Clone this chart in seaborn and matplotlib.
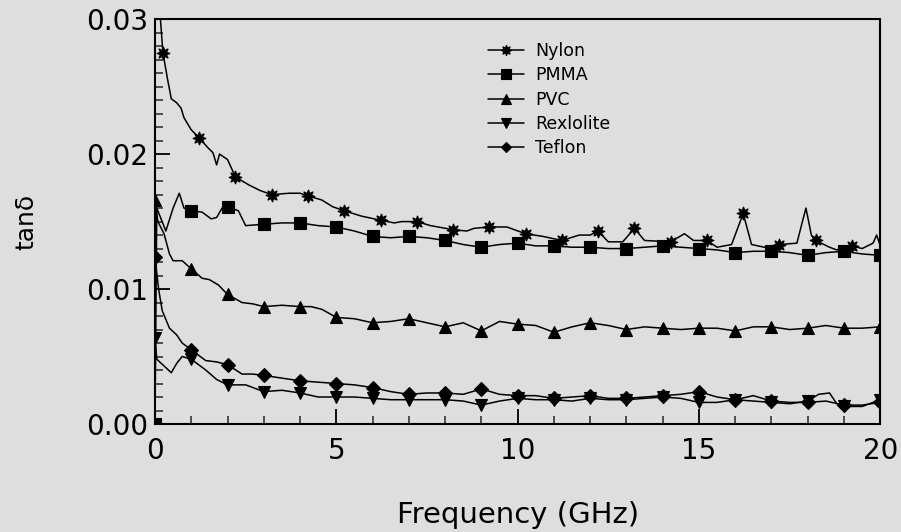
import numpy as np
import matplotlib
matplotlib.use("Agg")
import matplotlib.pyplot as plt
import seaborn as sns

# tan delta vs frequency
nylon_f = [0.15, 0.22, 0.35, 0.45, 0.6, 0.72, 0.8, 1.0, 1.22, 1.45, 1.6, 1.7, 1.78, 2.0,
           2.22, 2.6, 2.9, 3.22, 3.7, 4.0, 4.22, 4.6, 4.9, 5.22, 5.7, 6.22, 6.6, 6.8,
           7.22, 7.6, 8.22, 8.6, 8.8, 9.22, 9.7, 10.22, 10.7, 11.22, 11.7, 12.0, 12.22,
           12.5, 12.9, 13.22, 13.5, 14.22, 14.6, 14.85, 15.22, 15.5, 15.9, 16.22, 16.45,
           16.8, 17.22, 17.7, 17.95, 18.1, 18.22, 18.6, 18.8, 19.22, 19.5, 19.8, 19.9, 20.0]
nylon_v = [0.0300, 0.0275, 0.0255, 0.0241, 0.0238, 0.0234, 0.0227, 0.0218, 0.0212, 0.0205,
           0.0201, 0.0192, 0.0200, 0.0196, 0.0183, 0.0177, 0.0173, 0.0170, 0.0171, 0.0171,
           0.0169, 0.0166, 0.0161, 0.0158, 0.0154, 0.0151, 0.0149, 0.0150, 0.0150, 0.0147,
           0.0144, 0.0143, 0.0145, 0.0146, 0.0146, 0.0141, 0.0139, 0.0136, 0.0140, 0.0140,
           0.0143, 0.0135, 0.0135, 0.0145, 0.0136, 0.0135, 0.0141, 0.0136, 0.0136, 0.0131,
           0.0133, 0.0156, 0.0133, 0.0131, 0.0133, 0.0134, 0.0160, 0.0140, 0.0136, 0.0131,
           0.0129, 0.0132, 0.0130, 0.0134, 0.0140, 0.0132]

pmma_f = [0.0, 0.05, 0.3, 0.5, 0.67, 0.8, 1.0, 1.3, 1.55, 1.7, 1.85, 2.0, 2.3, 2.5, 3.0,
          3.5, 4.0, 4.5, 5.0, 5.5, 6.0, 6.5, 7.0, 7.5, 8.0, 8.5, 9.0, 9.5, 10.0, 10.5,
          11.0, 11.5, 12.0, 12.5, 13.0, 13.5, 14.0, 14.5, 15.0, 15.5, 16.0, 16.5, 17.0,
          17.5, 18.0, 18.5, 19.0, 19.5, 20.0]
pmma_v = [0.0000, 0.0160, 0.0143, 0.0160, 0.0171, 0.0160, 0.0158, 0.0157, 0.0152, 0.0153,
          0.0160, 0.0161, 0.0158, 0.0147, 0.0148, 0.0149, 0.0149, 0.0147, 0.0146, 0.0143,
          0.0139, 0.0138, 0.0139, 0.0138, 0.0136, 0.0133, 0.0131, 0.0133, 0.0134, 0.0132,
          0.0132, 0.0131, 0.0131, 0.0130, 0.0130, 0.0131, 0.0132, 0.0131, 0.0130, 0.0129,
          0.0127, 0.0128, 0.0128, 0.0127, 0.0125, 0.0127, 0.0128, 0.0126, 0.0125]

pvc_f = [0.0, 0.08, 0.25, 0.4, 0.5, 0.75, 1.0, 1.3, 1.5, 1.75, 2.0, 2.4, 2.7, 3.0, 3.5,
         4.0, 4.3, 4.6, 5.0, 5.5, 6.0, 6.5, 7.0, 7.5, 8.0, 8.5, 9.0, 9.5, 10.0, 10.5,
         11.0, 11.5, 12.0, 12.5, 13.0, 13.5, 14.0, 14.5, 15.0, 15.5, 16.0, 16.5, 17.0,
         17.5, 18.0, 18.5, 19.0, 19.5, 20.0]
pvc_v = [0.0166, 0.0150, 0.0141, 0.0126, 0.0121, 0.0121, 0.0115, 0.0108, 0.0107, 0.0103,
         0.0096, 0.0090, 0.0089, 0.0087, 0.0088, 0.0087, 0.0087, 0.0085, 0.0079, 0.0078,
         0.0075, 0.0076, 0.0078, 0.0075, 0.0072, 0.0075, 0.0069, 0.0076, 0.0074, 0.0073,
         0.0068, 0.0072, 0.0075, 0.0073, 0.0070, 0.0072, 0.0071, 0.0070, 0.0071, 0.0071,
         0.0069, 0.0072, 0.0072, 0.0070, 0.0071, 0.0073, 0.0071, 0.0071, 0.0072]

rex_f = [0.0, 0.05, 0.25, 0.45, 0.6, 0.75, 1.0, 1.4, 1.7, 2.0, 2.5, 3.0, 3.5, 4.0, 4.5,
         5.0, 5.5, 6.0, 6.5, 7.0, 7.5, 8.0, 8.5, 9.0, 9.5, 10.0, 10.5, 11.0, 11.5, 12.0,
         12.5, 13.0, 13.5, 14.0, 14.5, 15.0, 15.5, 16.0, 16.5, 17.0, 17.5, 18.0, 18.3,
         18.6, 18.8, 19.0, 19.5, 20.0]
rex_v = [0.0064, 0.0048, 0.0043, 0.0038, 0.0045, 0.0050, 0.0048, 0.0040, 0.0033, 0.0029,
         0.0029, 0.0024, 0.0025, 0.0023, 0.0020, 0.0020, 0.0020, 0.0019, 0.0018, 0.0018,
         0.0018, 0.0018, 0.0017, 0.0014, 0.0017, 0.0019, 0.0018, 0.0018, 0.0017, 0.0019,
         0.0018, 0.0018, 0.0019, 0.0020, 0.0019, 0.0016, 0.0016, 0.0018, 0.0017, 0.0016,
         0.0015, 0.0017, 0.0022, 0.0023, 0.0015, 0.0013, 0.0013, 0.0018]

teflon_f = [0.0, 0.1, 0.2, 0.4, 0.6, 0.75, 1.0, 1.4, 1.7, 2.0, 2.4, 2.7, 3.0, 3.5, 4.0,
            4.5, 5.0, 5.5, 6.0, 6.5, 7.0, 7.5, 8.0, 8.5, 9.0, 9.5, 10.0, 10.5, 11.0, 11.5,
            12.0, 12.5, 13.0, 13.5, 14.0, 14.5, 15.0, 15.5, 16.0, 16.5, 17.0, 17.5, 18.0,
            18.5, 19.0, 19.5, 20.0]
teflon_v = [0.0124, 0.0100, 0.0084, 0.0071, 0.0066, 0.0060, 0.0055, 0.0047, 0.0046, 0.0044,
            0.0037, 0.0037, 0.0036, 0.0034, 0.0032, 0.0031, 0.0030, 0.0029, 0.0027, 0.0024,
            0.0022, 0.0023, 0.0023, 0.0022, 0.0026, 0.0022, 0.0021, 0.0021, 0.0019, 0.0020,
            0.0021, 0.0019, 0.0019, 0.0020, 0.0021, 0.0022, 0.0024, 0.0020, 0.0018, 0.0021,
            0.0017, 0.0016, 0.0016, 0.0017, 0.0014, 0.0014, 0.0016]

series = [
    ("Nylon", nylon_f, nylon_v, (8, 1, 0), 9.5, 0.22),
    ("PMMA", pmma_f, pmma_v, "s", 9, 0.0),
    ("PVC", pvc_f, pvc_v, "^", 9, 0.0),
    ("Rexlolite", rex_f, rex_v, "v", 9, 0.0),
    ("Teflon", teflon_f, teflon_v, "D", 7, 0.0),
]

sns.set_style("ticks")
plt.rcParams["font.family"] = ["DejaVu Sans"]
plt.rcParams["text.color"] = "black"
plt.rcParams["axes.labelcolor"] = "black"

bg = "#dedede"
fig = plt.figure(figsize=(9.01, 5.32), dpi=100, facecolor=bg)
ax = fig.add_axes([0.172, 0.203, 0.805, 0.761])
ax.set_facecolor(bg)

for name, f, v, mk, ms, off in series:
    f = np.array(f)
    # markers sit on whole GHz steps (Nylon is shifted a little)
    marks = [i for i, x in enumerate(f) if abs((x - off) - round(x - off)) < 1e-6]
    sns.lineplot(x=f, y=v, ax=ax, color="black", linewidth=1.1, marker=mk,
                 markersize=ms, markevery=marks, markeredgecolor="black",
                 markerfacecolor="black", markeredgewidth=0.8,
                 label=name, estimator=None, sort=False)

ax.set_xlim(0, 20)
ax.set_ylim(0, 0.03)
ax.set_xticks([0, 5, 10, 15, 20])
ax.set_xticks(np.arange(0, 21, 1), minor=True)
ax.set_yticks([0.00, 0.01, 0.02, 0.03])
ax.set_yticks(np.arange(0, 0.0301, 0.001), minor=True)
ax.set_yticklabels(["0.00", "0.01", "0.02", "0.03"])
ax.tick_params(axis="both", which="major", direction="in", length=11, width=1.3,
               labelsize=20, colors="black")
ax.tick_params(axis="both", which="minor", direction="in", length=5.5, width=1.1)
ax.tick_params(axis="x", which="major", pad=9)
ax.tick_params(axis="y", which="major", pad=5)

for side in ["left", "bottom", "right", "top"]:
    ax.spines[side].set_visible(True)
    ax.spines[side].set_color("black")
    ax.spines[side].set_linewidth(1.5)

ax.set_xlabel("Frequency (GHz)", fontsize=21, labelpad=26)
ax.set_ylabel("tanδ", fontsize=18, labelpad=34)

leg = ax.legend(loc="upper left", bbox_to_anchor=(0.459, 0.943), frameon=False,
                fontsize=12.5, handlelength=2.1, handletextpad=0.6, labelspacing=0.36,
                markerscale=0.8, borderpad=0, borderaxespad=0)
for t in leg.get_texts():
    t.set_color("black")

plt.savefig("out.png", dpi=100, facecolor=bg)
